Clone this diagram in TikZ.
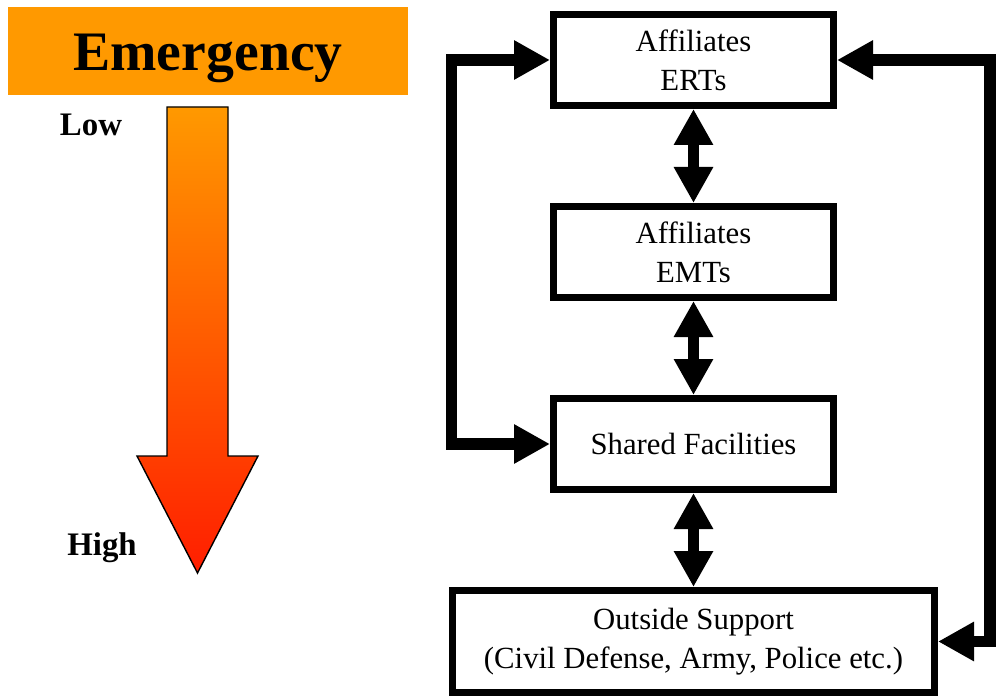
\documentclass[tikz,border=0pt]{standalone}
\usepackage{fontspec}
\setmainfont{Liberation Serif}
\usetikzlibrary{arrows.meta,positioning}
\definecolor{RespOrange}{HTML}{FF9900}
\definecolor{RespRed}{HTML}{FF1E00}
\tikzset{
  resp box/.style={
    draw=black,
    fill=white,
    line width=0.14cm,
    align=center,
    minimum width=5.6cm,
    minimum height=1.82cm,
    inner sep=2pt,
    font=\fontsize{17.5}{22}\selectfont
  },
  resp link/.style={
    >={Triangle[length=7.2mm,width=7.4mm]},
    <->,
    draw=black,
    line width=0.23cm
  },
  resp level/.style={
    anchor=base,
    inner sep=0pt,
    font=\fontsize{18.7}{22}\selectfont\bfseries
  }
}

\begin{document}
\begin{tikzpicture}[node distance=1.88cm]
  \useasboundingbox (0,0) rectangle (19.92,-13.98);

  \node[fill=RespOrange,inner sep=0pt,minimum width=8cm,minimum height=1.76cm,anchor=north west] (banner) at (0.16,-0.14) {};
  \node[anchor=base,inner sep=0pt,font=\fontsize{31.7}{36}\selectfont\bfseries] (title) at (4.16,-1.42) {Emergency};
  \node[resp level] (low) at (1.82,-2.72) {Low};
  \node[resp level] (high) at (2.04,-11.10) {High};
  \draw[line width=0.8pt,top color=RespOrange,bottom color=RespRed]
    (3.34,-2.14) -- (4.56,-2.14) -- (4.56,-9.12) -- (5.16,-9.12)
    -- (3.95,-11.46) -- (2.74,-9.12) -- (3.34,-9.12) -- cycle;

  \node[resp box] (erts) at (13.87,-1.20) {Affiliates\\ERTs};
  \node[resp box,below=of erts] (emts) {Affiliates\\EMTs};
  \node[resp box,below=of emts] (shared) {Shared Facilities};
  \node[resp box,minimum width=9.64cm,minimum height=2.04cm,below=of shared] (outside) {Outside Support\\(Civil Defense, Army, Police etc.)};

  \draw[resp link] (erts) -- (emts);
  \draw[resp link] (emts) -- (shared);
  \draw[resp link] (shared) -- (outside);
  \draw[resp link] (erts.west) -- ++(-1.97,0) |- (shared.west);
  \draw[resp link] (erts.east) -- ++(3.06,0) |- (outside.east);
\end{tikzpicture}
\end{document}
